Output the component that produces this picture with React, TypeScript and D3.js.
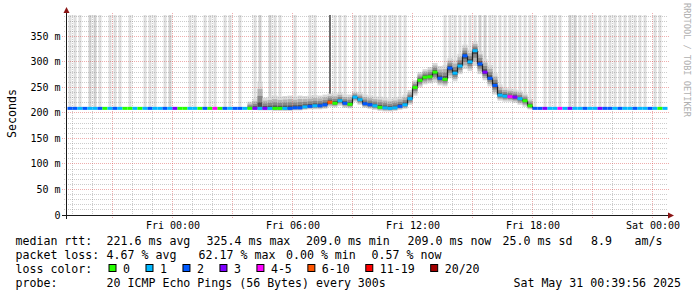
import React, { useEffect } from 'react';
import * as d3 from 'd3';

const WIDTH = 697;
const HEIGHT = 297;

// time window shown and data steps (15 min)
const DOMAIN_START = new Date(2025, 4, 29, 18, 43, 30);
const DOMAIN_END = new Date(2025, 4, 31, 0, 43, 30);
const FIRST_STEP = new Date(2025, 4, 29, 18, 45, 0);
const STEP_MINUTES = 15;

// median rtt (ms) per 15-min step
const median = [
  209, 209, 209, 209, 209, 209, 209, 209, 209, 209,
  209, 209, 209, 209, 209, 209, 209, 209, 209, 209,
  209, 209, 209, 209, 209, 209, 209, 209, 209, 209,
  209, 209, 209, 209, 209, 209, 209, 209, 209, 209,
  209, 209, 209, 209, 209, 210, 210, 212, 213, 214,
  214, 216, 221, 219, 224, 219, 217, 231, 226, 218,
  216, 214, 211, 210, 209, 210, 213, 216, 228, 250,
  264, 270, 271, 280, 268, 266, 288, 278, 292, 312,
  300, 322, 296, 280, 268, 254, 235, 233, 232, 231,
  228, 224, 214, 209, 209, 209, 209, 209, 209, 209,
  209, 209, 209, 209, 209, 209, 209, 209, 209, 209,
  209, 209, 209, 209, 209, 209, 209, 209, 209, 209,
];

// loss class per step (index into lossColors)
const loss = [
  2, 2, 1, 2, 1, 1, 2, 0, 1, 2,
  1, 0, 0, 1, 0, 1, 2, 1, 1, 2,
  1, 3, 0, 0, 1, 1, 0, 2, 0, 4,
  0, 2, 1, 2, 2, 1, 0, 3, 1, 3,
  1, 0, 0, 1, 2, 2, 2, 1, 2, 1,
  2, 2, 5, 0, 1, 2, 0, 1, 1, 2,
  2, 1, 0, 1, 1, 1, 2, 1, 1, 0,
  0, 0, 0, 0, 2, 0, 2, 1, 1, 2,
  1, 1, 2, 3, 2, 2, 1, 1, 4, 3,
  1, 0, 0, 2, 2, 3, 1, 1, 4, 1,
  3, 1, 1, 2, 1, 1, 3, 2, 2, 1,
  2, 1, 1, 2, 1, 1, 2, 1, 0, 1,
];

// upper / lower extent of the ping smoke (ms)
const smokeHigh = [
  209, 209, 209, 209, 209, 209, 209, 209, 209, 209,
  209, 209, 209, 209, 209, 209, 209, 209, 209, 209,
  209, 209, 209, 209, 209, 209, 209, 209, 209, 209,
  209, 209, 209, 209, 209, 209, 222, 228, 262, 230,
  232, 234, 232, 233, 234, 232, 234, 233, 234, 235,
  234, 236, 238, 238, 240, 236, 236, 242, 240, 236,
  234, 232, 232, 230, 228, 230, 232, 236, 245, 264,
  280, 286, 290, 298, 292, 294, 308, 304, 316, 334,
  324, 340, 322, 306, 294, 278, 256, 250, 248, 246,
  244, 238, 228, 209, 209, 209, 209, 209, 209, 209,
  209, 209, 209, 209, 209, 209, 209, 209, 209, 209,
  209, 209, 209, 209, 209, 209, 209, 209, 209, 209,
];
const smokeLow = [
  209, 209, 209, 209, 209, 209, 209, 209, 209, 209,
  209, 209, 209, 209, 209, 209, 209, 209, 209, 209,
  209, 209, 209, 209, 209, 209, 209, 209, 209, 209,
  209, 209, 209, 209, 209, 209, 207, 206, 205, 205,
  205, 204, 204, 204, 204, 205, 205, 206, 207, 207,
  207, 208, 212, 211, 214, 210, 209, 222, 216, 210,
  208, 206, 204, 203, 203, 204, 206, 208, 216, 234,
  250, 256, 258, 260, 254, 252, 268, 262, 276, 286,
  282, 292, 276, 264, 252, 236, 224, 222, 222, 220,
  216, 212, 207, 209, 209, 209, 209, 209, 209, 209,
  209, 209, 209, 209, 209, 209, 209, 209, 209, 209,
  209, 209, 209, 209, 209, 209, 209, 209, 209, 209,
];

// pings beyond the top of the graph (0 none, 1 few, 2 more, 3 most)
const outlierLevel = [
  1, 1, 1, 0, 2, 2, 1, 0, 1, 1,
  1, 0, 1, 0, 0, 1, 1, 1, 0, 1,
  2, 0, 0, 0, 1, 1, 0, 1, 1, 1,
  0, 1, 1, 0, 1, 0, 0, 1, 2, 0,
  2, 1, 1, 0, 0, 1, 0, 0, 1, 1,
  0, 0, 3, 1, 1, 1, 0, 1, 1, 1,
  1, 1, 1, 1, 1, 1, 1, 1, 0, 0,
  0, 0, 0, 0, 0, 1, 1, 1, 1, 1,
  1, 1, 2, 2, 1, 1, 1, 1, 1, 1,
  1, 1, 1, 1, 0, 1, 1, 1, 1, 0,
  2, 2, 1, 1, 1, 1, 1, 1, 1, 1,
  1, 1, 1, 1, 1, 1, 0, 1, 1, 0,
];

const lossColors = ['#26ff00', '#00b8ff', '#0059ff', '#7e00ff', '#ff00ff', '#ff5500', '#ff0000', '#a00000'];
const lossLabels = ['0', '1', '2', '3', '4-5', '6-10', '11-19', '20/20'];
const outlierColors = ['none', '#dfdfdf', '#d0d0d0', '#6e6e6e'];

const yMajorTicks = [0, 50, 100, 150, 200, 250, 300, 350];
const yMax = 392;

const legendLine1 = [
  { t: 'median rtt:', x: 15.5 },
  { t: '221.6 ms avg', x: 106.6 },
  { t: '325.4 ms max', x: 206.6 },
  { t: '209.0 ms min', x: 306 },
  { t: '209.0 ms now', x: 407.6 },
  { t: '25.0 ms sd', x: 502.6 },
  { t: '8.9', x: 591 },
  { t: 'am/s', x: 634.5 },
];
const legendLine2 = [
  { t: 'packet loss:', x: 15.5 },
  { t: '4.67 % avg', x: 106.6 },
  { t: '62.17 % max', x: 198.6 },
  { t: '0.00 % min', x: 286 },
  { t: '0.57 % now', x: 371.6 },
];
const legendLine3Title = 'loss color:';
const probeTitle = 'probe:';
const probeText = '20 ICMP Echo Pings (56 Bytes) every 300s';
const dateText = 'Sat May 31 00:39:56 2025';
const yAxisTitle = 'Seconds';
const watermark = 'RRDTOOL / TOBI OETIKER';

const MONO = "'DejaVu Sans Mono', monospace";

export default function App() {
  useEffect(() => {
    document.body.style.margin = '0';
  }, []);

  const x = d3.scaleTime().domain([DOMAIN_START, DOMAIN_END]).range([67, 667]);
  const y = d3.scaleLinear().domain([0, yMax]).range([215, 15]);
  const snap = (v: number) => Math.floor(v) + 0.5;

  const stepMs = STEP_MINUTES * 60 * 1000;
  const t0 = (i: number) => new Date(FIRST_STEP.getTime() + i * stepMs);
  const t1 = (i: number) => new Date(FIRST_STEP.getTime() + (i + 1) * stepMs);

  const plotTop = y(yMax);

  // grid
  const hours = d3.timeHour.range(DOMAIN_START, DOMAIN_END);
  const minorY = d3.range(10, yMax, 10).filter((v) => v % 50 !== 0);
  const majorY = yMajorTicks.filter((v) => v > 0);
  const fmt = d3.timeFormat('%a %H:%M');

  const bands = [
    { f: 1.0, c: '#d9d9d9' },
    { f: 0.72, c: '#b3b3b3' },
    { f: 0.46, c: '#888888' },
    { f: 0.22, c: '#505050' },
  ];

  // loss legend layout
  const charW = 6.98;
  let cur = 108.5;
  const lossItems = lossLabels.map((lab, k) => {
    const bx = cur;
    const lx = bx + 14.5;
    cur = lx + lab.length * charW + 15.5;
    return { bx, lx, lab, color: lossColors[k] };
  });

  return (
    <svg
      width={WIDTH}
      height={HEIGHT}
      style={{ display: 'block', position: 'absolute', left: 0, top: 0 }}
      fontFamily={MONO}
    >
      <rect x={0} y={0} width={WIDTH} height={HEIGHT} fill="#ffffff" />

      {/* outlier bars reaching the top */}
      {median.map((m, i) => {
        const lvl = outlierLevel[i];
        if (!lvl) return null;
        const xa = x(t0(i));
        const xb = x(t1(i));
        const w = lvl === 3 ? 2 : xb - xa - 2;
        const xs = lvl === 3 ? xa + 1.5 : xa + 1;
        return (
          <rect key={'o' + i} x={xs} y={plotTop} width={w} height={y(m) - plotTop} fill={outlierColors[lvl]} />
        );
      })}

      {/* smoke */}
      {median.map((m, i) => {
        const hi = smokeHigh[i];
        const lo = smokeLow[i];
        if (hi <= m && lo >= m) return null;
        const xa = x(t0(i));
        const xb = x(t1(i));
        return (
          <g key={'s' + i}>
            {bands.map((b, k) => {
              const top = y(m + b.f * (hi - m));
              const bot = y(m - b.f * (m - lo));
              return <rect key={k} x={xa} y={top} width={xb - xa} height={Math.max(0, bot - top)} fill={b.c} />;
            })}
          </g>
        );
      })}

      {/* minor grid */}
      <g stroke="rgba(128,128,128,0.4)" strokeWidth={1} strokeDasharray="1,1" fill="none">
        {minorY.map((v) => (
          <line key={'hy' + v} x1={64} x2={668} y1={snap(y(v))} y2={snap(y(v))} />
        ))}
        {hours
          .filter((h) => h.getHours() % 3 !== 0)
          .map((h) => (
            <line key={'hx' + h.getTime()} x1={snap(x(h))} x2={snap(x(h))} y1={plotTop} y2={217} />
          ))}
      </g>
      {/* major grid */}
      <g stroke="rgba(215,60,60,0.42)" strokeWidth={1} strokeDasharray="1,1" fill="none">
        {majorY.map((v) => (
          <line key={'my' + v} x1={62} x2={669} y1={snap(y(v))} y2={snap(y(v))} />
        ))}
        {hours
          .filter((h) => h.getHours() % 3 === 0)
          .map((h) => (
            <line key={'mx' + h.getTime()} x1={snap(x(h))} x2={snap(x(h))} y1={plotTop - 2} y2={219} />
          ))}
      </g>

      {/* dark connectors between consecutive medians */}
      {median.slice(1).map((m, k) => {
        const prev = median[k];
        if (Math.abs(m - prev) < 4) return null;
        const xb = x(t1(k));
        return (
          <line key={'c' + k} x1={xb} x2={xb} y1={y(prev)} y2={y(m)} stroke="#222" strokeWidth={1.2} />
        );
      })}

      {/* median line coloured by loss */}
      {median.map((m, i) => {
        const xa = x(t0(i));
        const xb = x(t1(i));
        return <rect key={'m' + i} x={xa} y={y(m) - 1.5} width={xb - xa} height={3} fill={lossColors[loss[i]]} />;
      })}

      {/* axes */}
      <line x1={62} x2={670} y1={215.5} y2={215.5} stroke="#1a1a1a" strokeWidth={1} />
      <line x1={66.5} x2={66.5} y1={11} y2={219} stroke="#1a1a1a" strokeWidth={1} />
      <path d="M668,212.5 L668,218.5 L674,215.5 Z" fill="#8b1515" />
      <path d="M63.5,13 L69.5,13 L66.5,7 Z" fill="#8b1515" />

      {/* y tick labels */}
      <g fontSize={10} fill="#000" textAnchor="end">
        {yMajorTicks.map((v) => (
          <text key={'yl' + v} x={60.5} y={snap(y(v)) + 3.5}>
            {v === 0 ? '0' : `${v} m`}
          </text>
        ))}
      </g>
      {/* x tick labels */}
      <g fontSize={10} fill="#000" textAnchor="middle">
        {hours
          .filter((h) => h.getHours() % 6 === 0)
          .map((h) => (
            <text key={'xl' + h.getTime()} x={snap(x(h)) + 0.5} y={228.5}>
              {fmt(h)}
            </text>
          ))}
      </g>

      {/* titles */}
      <text fontSize={11.6} fill="#000" textAnchor="middle" transform="translate(15.5,113.5) rotate(-90)">
        {yAxisTitle}
      </text>
      <text fontSize={8.6} fill="#b0b0b0" textAnchor="middle" transform="translate(683.5,60) rotate(90)">
        {watermark}
      </text>

      {/* legend */}
      <g fontSize={11.6} fill="#000" style={{ whiteSpace: 'pre' }}>
        {legendLine1.map((d, k) => (
          <text key={'l1' + k} x={d.x} y={245}>
            {d.t}
          </text>
        ))}
        {legendLine2.map((d, k) => (
          <text key={'l2' + k} x={d.x} y={259}>
            {d.t}
          </text>
        ))}
        <text x={15.5} y={273}>
          {legendLine3Title}
        </text>
        {lossItems.map((d, k) => (
          <g key={'l3' + k}>
            <rect x={d.bx + 0.5} y={264.5} width={7} height={7} fill={d.color} stroke="#000" strokeWidth={1} />
            <text x={d.lx} y={273}>
              {d.lab}
            </text>
          </g>
        ))}
        <text x={15.5} y={287}>
          {probeTitle}
        </text>
        <text x={106.6} y={287}>
          {probeText}
        </text>
        <text x={681} y={287} textAnchor="end">
          {dateText}
        </text>
      </g>
    </svg>
  );
}
